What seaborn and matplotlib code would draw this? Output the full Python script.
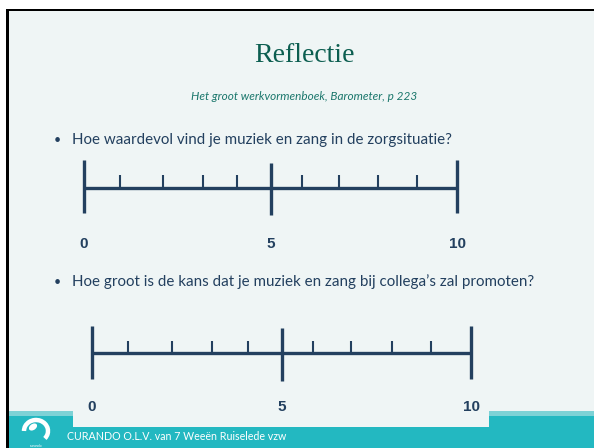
"""Reflectie-slide: twee barometerschalen 0-10"""
import matplotlib
matplotlib.use("Agg")
import matplotlib.pyplot as plt
import matplotlib.patches as mpatches
import seaborn as sns

# ---- data ----
title = "Reflectie"
subtitle = "Het groot werkvormenboek, Barometer, p 223"
questions = [
    "Hoe waardevol vind je muziek en zang in de zorgsituatie?",
    "Hoe groot is de kans dat je muziek en zang bij collega\u2019s zal promoten?",
]
scale_values = [0, 5, 10]
scale_labels = ["0", "5", "10"]
minor_ticks_1 = [0.97, 2.12, 3.19, 4.10, 5.84, 6.84, 7.88, 8.93]
minor_ticks_2 = [0.95, 2.11, 3.17, 4.12, 5.83, 6.83, 7.92, 8.94]
footer = "CURANDO O.L.V. van 7 Weeën Ruiselede vzw"

# ---- kleuren ----
BG = "#eff5f5"
NAVY = "#23405f"
TEAL = "#23b8c1"
TEAL_LIGHT = "#7dd2d6"
TITLE_GREEN = "#0c5e50"
SUB_GREEN = "#1b776c"

W, H = 594, 448

sns.set_theme(style="white")
plt.rcParams["font.family"] = ["Lato", "DejaVu Sans"]

fig = plt.figure(figsize=(W / 100, H / 100), dpi=100)
fig.patch.set_facecolor("white")


def px_axes(x0, y0, x1, y1):
    """axes op pixelpositie (y van boven)"""
    return fig.add_axes([x0 / W, 1 - y1 / H, (x1 - x0) / W, (y1 - y0) / H])


# achtergrond in pixelcoordinaten
bg = px_axes(0, 0, W, H)
bg.set_xlim(0, W)
bg.set_ylim(H, 0)
bg.axis("off")
bg.add_patch(mpatches.Rectangle((8, 11), W - 8, H - 11, color=BG, lw=0))
bg.add_patch(mpatches.Rectangle((8, 411), W - 8, 5, color=TEAL_LIGHT, lw=0))
bg.add_patch(mpatches.Rectangle((8, 416), W - 8, 32, color=TEAL, lw=0))
bg.add_patch(mpatches.Rectangle((73, 395), 416, 32, color=BG, lw=0))
bg.add_patch(mpatches.Rectangle((6, 9), W - 6, 2.5, color="black", lw=0))
bg.add_patch(mpatches.Rectangle((6, 9), 2.8, H - 9, color="black", lw=0))

# logo (vereenvoudigd)
bg.add_patch(mpatches.Arc((36, 431), 24, 22, theta1=180, theta2=40,
                          color="white", lw=3.2))
bg.add_patch(mpatches.Ellipse((33, 427), 9, 6, angle=-35, color="white", lw=0))
bg.text(36, 446, "curando", color="white", fontsize=2.5, ha="center", va="center")

bg.text(304, 56, title, color=TITLE_GREEN, fontsize=20, ha="center", va="center",
        family=["Liberation Serif", "DejaVu Serif"])
bg.text(304, 97, subtitle, color=SUB_GREEN, fontsize=8.5, ha="center", va="center",
        style="italic")
for q, y in zip(questions, [140, 282]):
    bg.text(57, y, "\u2022", color=NAVY, fontsize=9, ha="center", va="center")
    bg.text(72, y, q, color=NAVY, fontsize=10.9, ha="left", va="center")
bg.text(67, 437, footer, color="white", fontsize=7.7, ha="left", va="center")


def draw_scale(box, minor, end_tick, mid_tick, minor_h, label_y):
    ax = px_axes(*box)
    ax.set_xlim(0, 10)
    ax.set_ylim(label_y - 8, end_tick[1] + 10)
    ax.axis("off")
    ax.hlines(0, scale_values[0], scale_values[-1], color=NAVY, lw=2.4,
              clip_on=False)
    ends = [scale_values[0], scale_values[-1]]
    ax.vlines(ends, end_tick[0], end_tick[1], color=NAVY, lw=2.4, clip_on=False)
    ax.vlines(scale_values[1], mid_tick[0], mid_tick[1], color=NAVY, lw=2.4,
              clip_on=False)
    ax.vlines(minor, 0, minor_h, color=NAVY, lw=1.5, clip_on=False)
    for v, lab in zip(scale_values, scale_labels):
        ax.text(v, label_y, lab, color=NAVY, fontsize=11, fontweight="bold",
                ha="center", va="center", family=["Liberation Sans", "DejaVu Sans"],
                clip_on=False)
    return ax


# box: x van 0 tot 10 en y zo dat 1 data-eenheid = 1 pixel (basislijn = 0)
draw_scale((84, 188 - 38, 457, 188 + 64), minor_ticks_1,
           (-25, 28), (-27, 25), 13, -56)
draw_scale((92, 353 - 37, 471, 353 + 62), minor_ticks_2,
           (-26, 27), (-28, 25), 12, -54)

fig.savefig("out.png", dpi=100, facecolor=fig.get_facecolor())
